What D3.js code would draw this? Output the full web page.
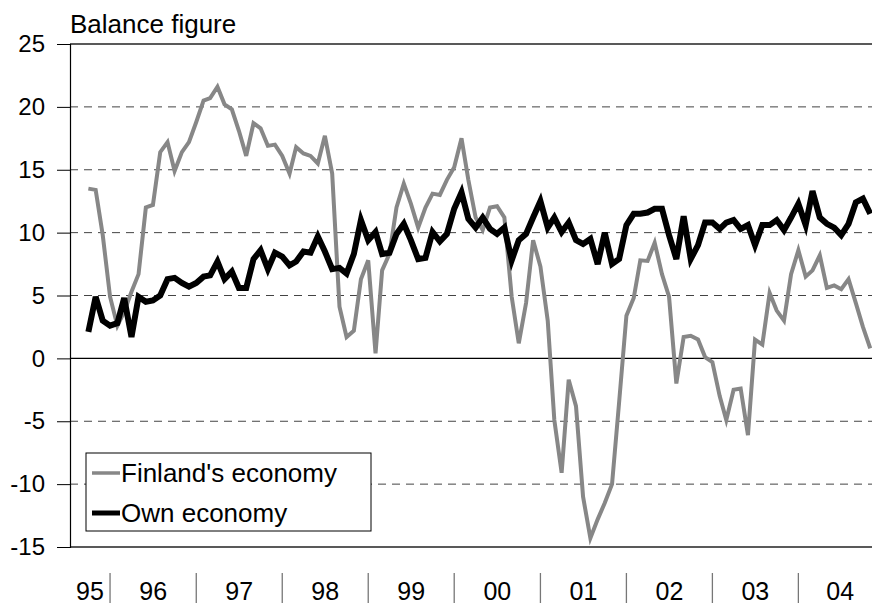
<!DOCTYPE html>
<html>
<head>
  <meta charset="utf-8">
  <title>Balance figure</title>
  <script src="https://d3js.org/d3.v7.min.js"></script>
  <style>
    body { margin: 0; background: #fff; }
    text { font-family: "Liberation Sans", Arial, sans-serif; fill: #000; }
  </style>
</head>
<body>
<script type="text/javascript">
  // monthly data, Oct 1995 .. Nov 2004
  var startMonth = new Date(1995, 9, 1);
  var yearLabels = ["95", "96", "97", "98", "99", "00", "01", "02", "03", "04"];
  var yTicks = [-15, -10, -5, 0, 5, 10, 15, 20, 25];
  var seriesNames = ["Finland's economy", "Own economy"];

  var finland = [13.5, 13.4, 9.8, 4.9, 2.6, 3.7, 5.3, 6.7, 12.0, 12.2,
    16.4, 17.2, 14.9, 16.4, 17.2, 18.8, 20.5, 20.7, 21.6, 20.2,
    19.8, 18.1, 16.1, 18.7, 18.3, 16.9, 17.0, 16.1, 14.7, 16.8,
    16.3, 16.1, 15.5, 17.7, 14.7, 4.1, 1.7, 2.2, 6.3, 7.8,
    0.4, 7.0, 8.3, 12.0, 13.9, 12.3, 10.4, 12.0, 13.1, 13.0,
    14.2, 15.2, 17.5, 14.2, 11.2, 10.2, 12.0, 12.1, 11.2, 4.9,
    1.2, 4.4, 9.4, 7.3, 3.0, -4.9, -9.1, -1.7, -3.8, -11.0,
    -14.3, -12.8, -11.5, -10.0, -3.5, 3.4, 4.8, 7.8, 7.75, 9.2,
    6.7, 4.9, -2.0, 1.7, 1.8, 1.5, 0.1, -0.3, -3.0, -4.9,
    -2.5, -2.4, -6.1, 1.5, 1.1, 5.2, 3.8, 3.0, 6.7, 8.6,
    6.5, 7.0, 8.2, 5.6, 5.8, 5.5, 6.3, 4.4, 2.5, 0.8];

  var own = [2.1, 4.9, 3.0, 2.6, 2.8, 4.8, 1.7, 4.9, 4.5, 4.6,
    5.0, 6.3, 6.4, 6.0, 5.7, 6.0, 6.5, 6.6, 7.7, 6.3,
    6.9, 5.6, 5.6, 7.9, 8.6, 7.1, 8.4, 8.1, 7.4, 7.7,
    8.5, 8.4, 9.7, 8.5, 7.1, 7.2, 6.75, 8.3, 11.0, 9.4,
    10.05, 8.3, 8.4, 9.9, 10.7, 9.4, 7.9, 8.0, 10.05, 9.3,
    9.9, 11.9, 13.2, 11.1, 10.4, 11.2, 10.3, 9.9, 10.4, 7.8,
    9.4, 9.9, 11.2, 12.5, 10.4, 11.2, 10.05, 10.8, 9.4, 9.1,
    9.5, 7.5, 10.0, 7.5, 7.9, 10.6, 11.5, 11.5, 11.6, 11.9,
    11.9, 9.8, 7.9, 11.3, 7.9, 9.0, 10.8, 10.8, 10.3, 10.8,
    11.0, 10.3, 10.6, 9.0, 10.6, 10.6, 11.0, 10.2, 11.2, 12.3,
    10.6, 13.3, 11.2, 10.7, 10.4, 9.8, 10.7, 12.4, 12.7, 11.5];

  var w = 872, h = 603;
  var plotL = 70, plotR = 882, plotT = 44, plotB = 547;
  var fontSize = "25px";

  var months = finland.map(function(d, i) { return d3.timeMonth.offset(startMonth, i); });

  var svg = d3.select("body").append("svg")
    .attr("width", w)
    .attr("height", h);

  var x = d3.scaleTime()
    .domain([new Date(1995, 6, 15), new Date(2004, 11, 21)])
    .range([plotL, plotR]);

  var y = d3.scaleLinear()
    .domain([-15, 25])
    .range([plotB, plotT]);

  // dashed grid
  svg.selectAll("line.grid")
    .data(yTicks.filter(function(t){ return t != 0 && t != -15 && t != 25; }))
    .enter().append("line")
    .attr("class", "grid")
    .attr("x1", plotL).attr("x2", plotR)
    .attr("y1", function(d){ return y(d); })
    .attr("y2", function(d){ return y(d); })
    .attr("stroke", "#444")
    .attr("stroke-width", 1)
    .attr("stroke-dasharray", "8,6");

  // top, zero and bottom lines
  [25, 0, -15].forEach(function(v){
    svg.append("line")
      .attr("x1", plotL).attr("x2", plotR)
      .attr("y1", y(v)).attr("y2", y(v))
      .attr("stroke", v == 0 ? "#000" : "#222")
      .attr("stroke-width", v == 0 ? 1.2 : 1.5);
  });

  // y axis (plain hyphen for negatives, like the original)
  var yAxis = svg.append("g")
    .attr("transform", "translate(" + plotL + ",0)")
    .call(d3.axisLeft(y).tickValues(yTicks).tickSize(13).tickPadding(12)
      .tickFormat(function(d){ return String(d); }));
  yAxis.select(".domain").attr("stroke", "#000").attr("stroke-width", 1.2);
  yAxis.selectAll(".tick line").attr("stroke", "#000");
  yAxis.selectAll("text")
    .style("font-family", "'Liberation Sans', Arial, sans-serif")
    .style("font-size", "24px")
    .attr("fill", "#000");

  svg.append("text")
    .attr("x", plotL)
    .attr("y", 33)
    .style("font-size", "26px")
    .text("Balance figure");

  // x axis: separators at year boundaries, labels centred in each year
  var years = d3.range(1995, 2005);
  var seps = years.slice(1).map(function(yr){ return new Date(yr, 0, 1); });
  svg.selectAll("line.sep")
    .data(seps)
    .enter().append("line")
    .attr("class", "sep")
    .attr("x1", function(d){ return x(d); })
    .attr("x2", function(d){ return x(d); })
    .attr("y1", 573).attr("y2", 603)
    .attr("stroke", "#777")
    .attr("stroke-width", 1.3);

  svg.selectAll("text.year")
    .data(years)
    .enter().append("text")
    .attr("class", "year")
    .attr("x", function(d){
      var a = Math.max(x(new Date(d, 0, 1)), plotL);
      var b = Math.min(x(new Date(d + 1, 0, 1)), plotR);
      return (a + b) / 2;
    })
    .attr("y", 600)
    .attr("text-anchor", "middle")
    .style("font-size", fontSize)
    .text(function(d, i){ return yearLabels[i]; });

  // lines
  var line = d3.line()
    .x(function(d, i){ return x(months[i]); })
    .y(function(d){ return y(d); });

  svg.append("path")
    .datum(finland)
    .attr("d", line)
    .attr("fill", "none")
    .attr("stroke", "#878787")
    .attr("stroke-width", 4)
    .attr("stroke-linejoin", "miter");

  svg.append("path")
    .datum(own)
    .attr("d", line)
    .attr("fill", "none")
    .attr("stroke", "#000")
    .attr("stroke-width", 6)
    .attr("stroke-linejoin", "miter");

  // legend
  var lg = svg.append("g");
  lg.append("rect")
    .attr("x", 86).attr("y", 453)
    .attr("width", 285).attr("height", 78)
    .attr("fill", "#fff")
    .attr("stroke", "#000")
    .attr("stroke-width", 1);

  var legendStyles = [{c: "#878787", sw: 3.5}, {c: "#000", sw: 5}];
  seriesNames.forEach(function(name, i){
    var yy = 473 + i * 40;
    lg.append("line")
      .attr("x1", 92).attr("x2", 120)
      .attr("y1", yy).attr("y2", yy)
      .attr("stroke", legendStyles[i].c)
      .attr("stroke-width", legendStyles[i].sw);
    lg.append("text")
      .attr("x", 121)
      .attr("y", yy + 9)
      .style("font-size", "26px")
      .text(name);
  });
</script>
</body>
</html>
